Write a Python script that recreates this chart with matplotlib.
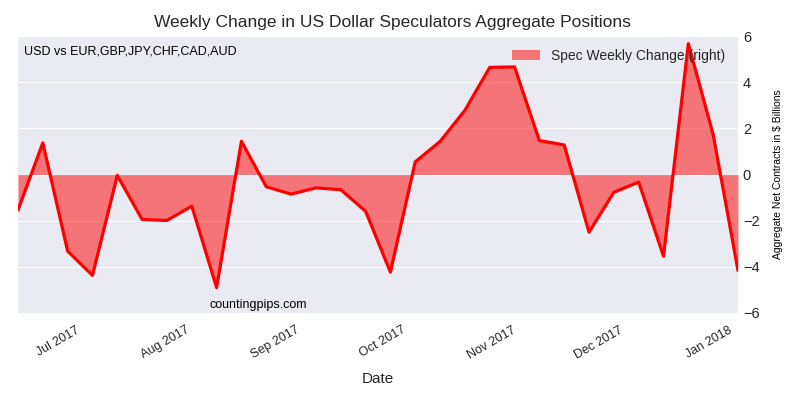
import matplotlib
matplotlib.use("Agg")
import matplotlib.pyplot as plt
import matplotlib.dates as mdates
import numpy as np
import pandas as pd

dates = pd.date_range("2017-06-13", periods=30, freq="7D")
values = [-1.54, 1.37, -3.32, -4.37, -0.04, -1.95, -1.99, -1.37, -4.9, 1.44,
          -0.53, -0.85, -0.58, -0.66, -1.59, -4.23, 0.55, 1.43, 2.78, 4.64,
          4.66, 1.47, 1.28, -2.50, -0.77, -0.33, -3.54, 5.67, 1.73, -4.16]
yticks = [-6, -4, -2, 0, 2, 4, 6]
title = "Weekly Change in US Dollar Speculators Aggregate Positions"
series_label = "Spec Weekly Change (right)"

plt.style.use("seaborn-v0_8-darkgrid")
plt.rcParams['font.family'] = ['Liberation Sans', 'DejaVu Sans']

fig = plt.figure(figsize=(8, 3.97), dpi=100)
ax = fig.add_axes([18/800, 1 - 313/397, 720/800, 277/397])

ax.fill_between(dates, values, 0, color="red", alpha=0.5, linewidth=0, label=series_label)
ax.plot(dates, values, color="red", linewidth=2.3)

ax.set_xlim(dates[0], dates[-1])
ax.set_ylim(-6, 6)
ax.set_yticks(yticks)
ax.yaxis.tick_right()
ax.yaxis.set_label_position("right")
ax.set_ylabel("Aggregate Net Contracts in $ Billions", fontsize=7.5, color="black", labelpad=10)
ax.grid(axis="x", visible=False)
ax.tick_params(axis="y", labelsize=10.5, colors="#262626")

ax.xaxis.set_major_locator(mdates.MonthLocator())
ax.xaxis.set_major_formatter(mdates.DateFormatter("%b %Y"))
ax.tick_params(axis="x", labelsize=9, colors="#262626", pad=8)
for lbl in ax.get_xticklabels():
    lbl.set_rotation(30)
    lbl.set_ha("right")
ax.set_xlabel("Date", fontsize=11, color="#262626", labelpad=8)

ax.legend(loc="upper right", fontsize=10, frameon=False)
fig.text(392/800, 1 - 22/397, title, fontsize=12.5, ha="center", va="center", color="#262626")
ax.text(0.008, 0.965, "USD vs EUR,GBP,JPY,CHF,CAD,AUD", transform=ax.transAxes,
        fontsize=9, ha="left", va="top", color="black")
ax.text(0.333, 0.03, "countingpips.com", transform=ax.transAxes,
        fontsize=9, ha="center", va="center", color="black")

fig.savefig("out.png", dpi=100)
